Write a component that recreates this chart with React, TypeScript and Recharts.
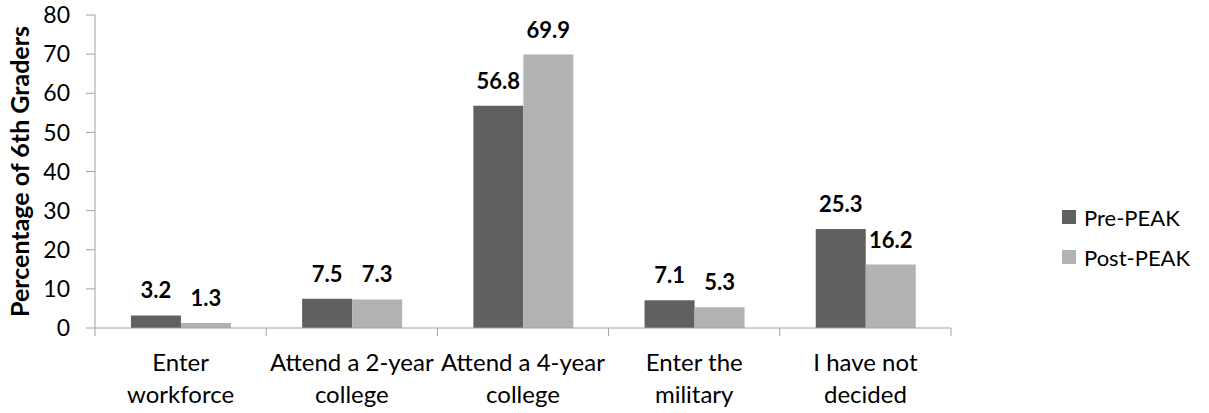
import React from 'react';
import { BarChart, Bar, XAxis, YAxis, LabelList, Legend, Label } from 'recharts';

const categories = ['Enter\nworkforce', 'Attend a 2-year\ncollege', 'Attend a 4-year\ncollege', 'Enter the\nmilitary', 'I have not\ndecided'];
const prePeak = [3.2, 7.5, 56.8, 7.1, 25.3];
const postPeak = [1.3, 7.3, 69.9, 5.3, 16.2];
const yTicks = [0, 10, 20, 30, 40, 50, 60, 70, 80];
const seriesNames = ['Pre-PEAK', 'Post-PEAK'];
const yTitle = 'Percentage of 6th Graders';

const data = categories.map((c, i) => ({ cat: c, pre: prePeak[i], post: postPeak[i] }));

const FONT = 'Lato, "Open Sans", sans-serif';
const AXIS = '#a0a0a0';
const DARK = '#606060';
const LIGHT = '#b2b2b2';
const TICK = 8;

const CategoryTick = (props: any) => {
  const { x, y, payload, width, visibleTicksCount, index } = props;
  const half = width / visibleTicksCount / 2;
  const lines = String(payload.value).split('\n');
  return (
    <g>
      <line x1={x - half} x2={x - half} y1={y - TICK} y2={y} stroke={AXIS} strokeWidth={1} />
      {index === visibleTicksCount - 1 && (
        <line x1={x + half} x2={x + half} y1={y - TICK} y2={y} stroke={AXIS} strokeWidth={1} />
      )}
      <text x={x} y={y} textAnchor="middle" fontFamily={FONT} fontSize={24} fill="#000">
        {lines.map((l, i) => (
          <tspan key={i} x={x} dy={i === 0 ? 35 : 32}>{l}</tspan>
        ))}
      </text>
    </g>
  );
};

const LegendContent = (props: any) => {
  const payload = [...(props.payload || [])].sort(
    (a: any, b: any) => seriesNames.indexOf(a.value) - seriesNames.indexOf(b.value)
  );
  return (
    <div style={{ fontFamily: FONT, fontSize: 22, color: '#000' }}>
      {payload.map((p: any, i: number) => (
        <div key={i} style={{ display: 'flex', alignItems: 'center', height: 40 }}>
          <span style={{ display: 'inline-block', width: 14, height: 14, background: p.color, marginRight: 8 }} />
          <span>{p.value}</span>
        </div>
      ))}
    </div>
  );
};

const labelStyle = { fontFamily: FONT, fontSize: 22, fontWeight: 'bold', fill: '#000' } as any;

export default function App() {
  return (
    <div style={{ position: 'absolute', left: 0, top: 0, width: 1209, height: 413, background: '#fff' }}>
      <BarChart width={1209} height={413} data={data} margin={{ top: 15, right: 258, left: 35, bottom: 0 }} barCategoryGap="21%" barGap={0}>
        <XAxis dataKey="cat" height={85} stroke={AXIS} tickLine={false} tickSize={TICK} tickMargin={0} interval={0} tick={<CategoryTick />} />
        <YAxis domain={[0, 80]} ticks={yTicks} width={60} stroke={AXIS} tickSize={9} tickMargin={16} interval={0}
          tick={{ fill: '#000', fontFamily: FONT, fontSize: 23 }}>
          <Label content={(p: any) => {
            const vb = p.viewBox;
            const cy = vb.y + vb.height / 2;
            return (
              <text x={19} y={cy} transform={`rotate(-90, 19, ${cy})`} textAnchor="middle" dominantBaseline="central"
                fontFamily={FONT} fontSize={25} fontWeight="bold" fill="#000">{yTitle}</text>
            );
          }} />
        </YAxis>
        <Legend layout="vertical" align="center" verticalAlign="middle" content={<LegendContent />}
          wrapperStyle={{ left: 1062, top: 197, width: 'auto' }} />
        <Bar dataKey="pre" name={seriesNames[0]} fill={DARK} isAnimationActive={false}>
          <LabelList dataKey="pre" position="top" offset={17} style={labelStyle} />
        </Bar>
        <Bar dataKey="post" name={seriesNames[1]} fill={LIGHT} isAnimationActive={false}>
          <LabelList dataKey="post" position="top" offset={17} style={labelStyle} />
        </Bar>
      </BarChart>
    </div>
  );
}
